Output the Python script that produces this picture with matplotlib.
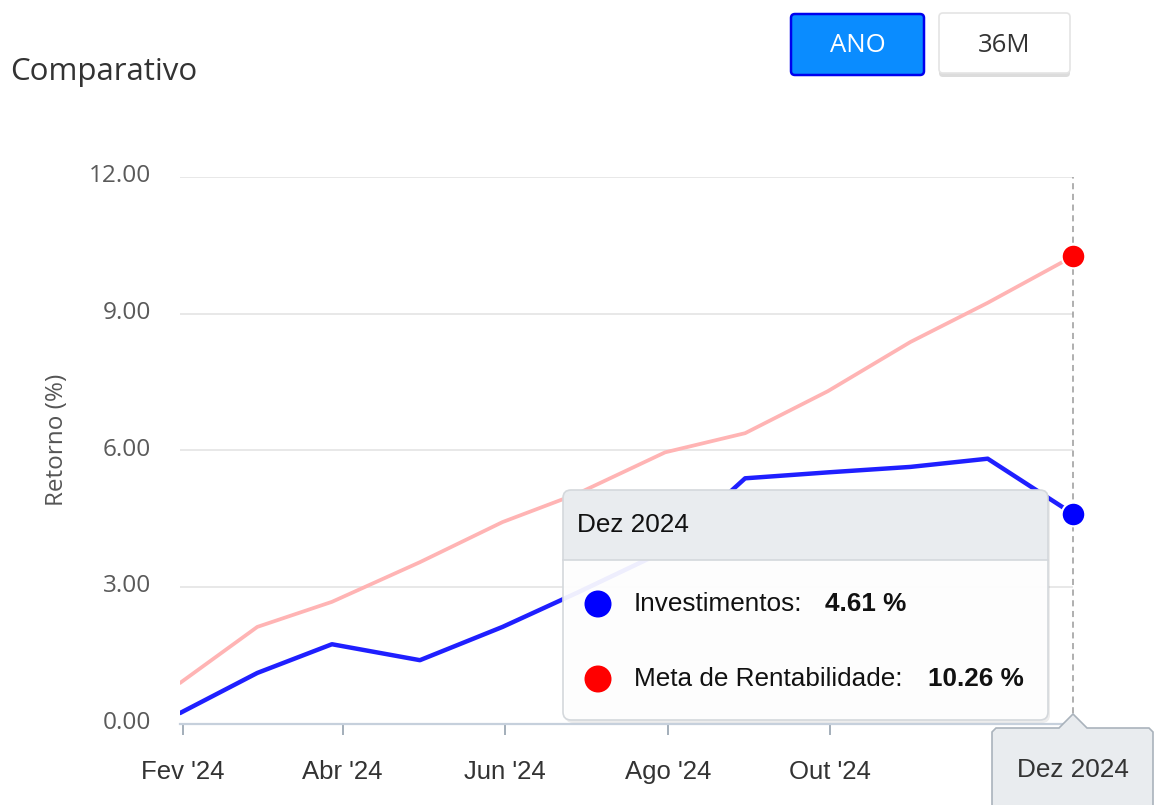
import matplotlib
matplotlib.use('Agg')
import matplotlib.pyplot as plt
from matplotlib.patches import FancyBboxPatch, Rectangle, Circle, Polygon
from matplotlib.transforms import ScaledTranslation
import pandas as pd

# ---------------- data ----------------
dates = pd.to_datetime(['2024-01-31', '2024-02-29', '2024-03-28', '2024-04-30',
                        '2024-05-31', '2024-06-28', '2024-07-31', '2024-08-30',
                        '2024-09-30', '2024-10-31', '2024-11-29', '2024-12-31'])
investimentos = [0.24, 1.12, 1.75, 1.40, 2.13, 2.88, 3.80, 5.39, 5.52, 5.64, 5.82, 4.61]
meta = [0.90, 2.13, 2.68, 3.55, 4.43, 5.05, 5.96, 6.38, 7.30, 8.38, 9.24, 10.26]
y_ticks = [0, 3, 6, 9, 12]
x_tick_dates = pd.to_datetime(['2024-02-01', '2024-04-01', '2024-06-01',
                               '2024-08-01', '2024-10-01'])
x_tick_labels = ["Fev '24", "Abr '24", "Jun '24", "Ago '24", "Out '24"]
series_names = ['Investimentos', 'Meta de Rentabilidade']
tooltip_title = 'Dez 2024'
buttons = ['ANO', '36M']

W, H = 1155, 805
fig = plt.figure(figsize=(W / 100, H / 100), dpi=100)
fig.patch.set_facecolor('white')

# ---------------- main plot ----------------
ax = fig.add_axes([180 / W, (H - 724) / H, 893 / W, (724 - 177) / H])
ax.plot(dates, meta, color='#ffb4b4', lw=2.7, zorder=3, solid_capstyle='round')
ax.plot(dates, investimentos, color='#1f1fff', lw=3.2, zorder=4, solid_capstyle='round')
ax.set_xlim(dates[0], dates[-1])
ax.set_ylim(0, 12)

for s in ['top', 'right', 'left']:
    ax.spines[s].set_visible(False)
ax.spines['bottom'].set_color('#c6d0dc')
ax.spines['bottom'].set_linewidth(1.6)
ax.spines['bottom'].set_zorder(2)

ax.set_yticks(y_ticks)
ax.set_yticklabels([f'{v:.2f}' for v in y_ticks])
ax.yaxis.grid(True, color='#e2e2e2', lw=1.1, zorder=0)
ax.set_axisbelow(True)
ax.tick_params(axis='y', length=0, pad=21, labelsize=17.6, labelcolor='#5a5a5a')
for lbl in ax.get_yticklabels():
    lbl.set_fontfamily('Open Sans')
    lbl.set_transform(lbl.get_transform() + ScaledTranslation(0, 0.04, fig.dpi_scale_trans))

ax.set_xticks(x_tick_dates)
ax.set_xticklabels(x_tick_labels)
ax.tick_params(axis='x', length=8, width=1.4, color='#a3aeba', pad=18,
               labelsize=18.5, labelcolor='#333333')
for lbl in ax.get_xticklabels():
    lbl.set_fontfamily('Liberation Sans')

# crosshair
ax.axvline(dates[-1], color='#9a9a9a', lw=1.1, ls=(0, (4, 3)), zorder=2, clip_on=False)

# hover markers
ax.plot([dates[-1]], [meta[-1]], 'o', ms=17, mfc='#ff0000', mec='white', mew=1.5,
        clip_on=False, zorder=6)
ax.plot([dates[-1]], [investimentos[-1]], 'o', ms=17, mfc='#0000ff', mec='white', mew=1.5,
        clip_on=False, zorder=6)

# ---------------- overlay (pixel coords) ----------------
ov = fig.add_axes([0, 0, 1, 1], zorder=10)
ov.set_xlim(0, W)
ov.set_ylim(H, 0)
ov.axis('off')
ov.patch.set_alpha(0)

fig.text(10 / W, 1 - 72 / H, 'Comparativo', fontsize=22.5, color='#333333',
         family='Open Sans', ha='left', va='center')
fig.text(57 / W, 1 - 440 / H, 'Retorno (%)', fontsize=17.5, color='#555555',
         family='Open Sans', rotation=90, ha='center', va='center')

# buttons
ov.add_patch(FancyBboxPatch((791, 14), 133, 61, boxstyle='round,pad=0,rounding_size=4',
                            fc='#0a8cff', ec='#0000ee', lw=1.8))
ov.text(857.5, 45, buttons[0], fontsize=18.5, color='white', family='Open Sans',
        ha='center', va='center')
ov.add_patch(FancyBboxPatch((939, 16), 131, 61, boxstyle='round,pad=0,rounding_size=4',
                            fc='#dcdcdc', ec='none'))
ov.add_patch(FancyBboxPatch((939, 13), 131, 60, boxstyle='round,pad=0,rounding_size=4',
                            fc='white', ec='#e4e4e4', lw=1.2))
ov.text(1004.5, 45, buttons[1], fontsize=18.5, color='#333333', family='Open Sans',
        ha='center', va='center')

# tooltip
tx, ty, tw, th = 563, 490, 485, 230
ov.add_patch(FancyBboxPatch((tx + 2, ty + 3), tw, th, boxstyle='round,pad=0,rounding_size=8',
                            fc='black', ec='none', alpha=0.07))
head = FancyBboxPatch((tx, ty), tw, th, boxstyle='round,pad=0,rounding_size=8',
                      fc='#e9ecef', ec='none')
ov.add_patch(head)
head.set_clip_path(Rectangle((tx - 2, ty - 2), tw + 4, 72, transform=ov.transData))
body = FancyBboxPatch((tx, ty), tw, th, boxstyle='round,pad=0,rounding_size=8',
                      fc='white', ec='none', alpha=0.93)
ov.add_patch(body)
body.set_clip_path(Rectangle((tx - 2, ty + 70), tw + 4, th, transform=ov.transData))
ov.add_patch(FancyBboxPatch((tx, ty), tw, th, boxstyle='round,pad=0,rounding_size=8',
                            fc='none', ec='#d4d8dc', lw=1.2))
ov.plot([tx, tx + tw], [ty + 70, ty + 70], color='#d4d8dc', lw=1.2)

ov.text(577, 525, tooltip_title, fontsize=18.8, color='#111111', family='Liberation Sans',
        ha='left', va='center')
ov.add_patch(Circle((598, 604), 13.5, fc='#0000ff', ec='none'))
ov.add_patch(Circle((598, 679), 13.5, fc='#ff0000', ec='none'))
ov.text(634, 604, series_names[0] + ':', fontsize=18.8, color='#111111',
        family='Liberation Sans', ha='left', va='center')
ov.text(825, 604, f'{investimentos[-1]:.2f} %', fontsize=18.8, color='#111111',
        family='Liberation Sans', weight='bold', ha='left', va='center')
ov.text(634, 679, series_names[1] + ':', fontsize=18.8, color='#111111',
        family='Liberation Sans', ha='left', va='center')
ov.text(928, 679, f'{meta[-1]:.2f} %', fontsize=18.8, color='#111111',
        family='Liberation Sans', weight='bold', ha='left', va='center')

# crosshair label
pts = [(992, 812), (992, 732), (996, 728), (1059, 728), (1073, 714), (1087, 728),
       (1149, 728), (1153, 732), (1153, 812)]
ov.add_patch(Polygon(pts, closed=True, fc='#e9ecef', ec='#aab3bc', lw=1.2))
ov.text(1073, 770, tooltip_title, fontsize=18.8, color='#333333', family='Liberation Sans',
        ha='center', va='center')

fig.savefig('out.png', dpi=100)
